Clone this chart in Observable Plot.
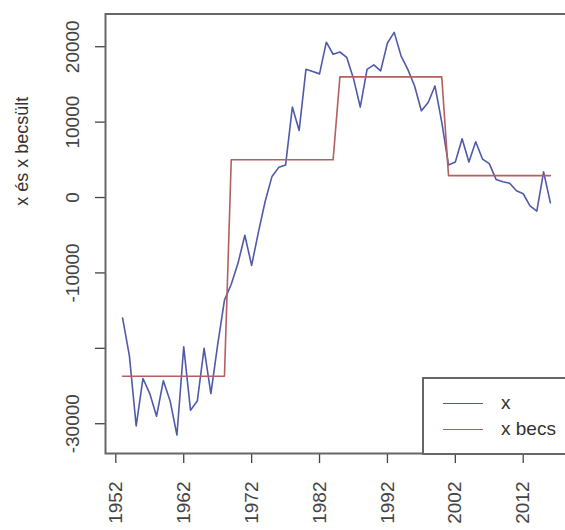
<!DOCTYPE html>
<html>
<head>
<meta charset="utf-8">
<script src="https://cdn.jsdelivr.net/npm/d3@7"></script>
<script src="https://cdn.jsdelivr.net/npm/@observablehq/plot@0.6"></script>
<style>
html, body { margin: 0; padding: 0; overflow: hidden; background: #fff; }
#wrap { position: relative; width: 565px; height: 530px; overflow: hidden; font-family: "Liberation Sans", Arial, sans-serif; }
#legend { position: absolute; left: 422px; top: 377px; width: 170px; height: 74px; border: 2px solid #666; background: #fff; box-sizing: content-box; }
.row { position: absolute; left: 0; height: 24px; display: flex; align-items: center; }
.sw { width: 40px; height: 0; border-top: 1.6px solid; margin-left: 19px; margin-right: 18px; }
.lab { font-size: 19px; color: #333; line-height: 24px; white-space: nowrap; }
</style>
</head>
<body>
<div id="wrap"><div id="chart"></div><div id="legend"></div></div>
<script>
// ---- data ----
const years = [1953,1954,1955,1956,1957,1958,1959,1960,1961,1962,1963,1964,1965,1966,1967,1968,
  1969,1970,1971,1972,1973,1974,1975,1976,1977,1978,1979,1980,1981,1982,1983,1984,
  1985,1986,1987,1988,1989,1990,1991,1992,1993,1994,1995,1996,1997,1998,1999,2000,
  2001,2002,2003,2004,2005,2006,2007,2008,2009,2010,2011,2012,2013,2014,2015,2016];
const xValues = [-16000,-21000,-30300,-24000,-26000,-29000,-24300,-27000,-31500,-19800,-28200,-27000,-20000,-26000,-19500,-13600,
  -11500,-8700,-5000,-9000,-4600,-500,2800,4000,4300,12000,8900,17000,16700,16400,20600,19000,
  19300,18600,15800,12000,17000,17600,16800,20500,21900,18800,17000,14800,11500,12600,14800,10000,
  4300,4700,7800,4700,7400,5100,4500,2400,2100,1900,900,500,-1100,-1800,3400,-700];
const xBecs = [-23700,-23700,-23700,-23700,-23700,-23700,-23700,-23700,-23700,-23700,-23700,-23700,-23700,-23700,-23700,-23700,
  5000,5000,5000,5000,5000,5000,5000,5000,5000,5000,5000,5000,5000,5000,5000,5000,
  16000,16000,16000,16000,16000,16000,16000,16000,16000,16000,16000,16000,16000,16000,16000,16000,
  2900,2900,2900,2900,2900,2900,2900,2900,2900,2900,2900,2900,2900,2900,2900,2900];
const xTicks = [1952,1962,1972,1982,1992,2002,2012];
const yTicks = [-30000,-20000,-10000,0,10000,20000];
const yTickLabels = ["-30000","","-10000","0","10000","20000"];
const seriesNames = ["x","x becs"];
const seriesColors = ["#4f5aaa","#b55f5f"];
const yTitle = "x és x becsült";

const rows = years.map((yr, i) => ({year: yr, x: xValues[i], becs: xBecs[i]}));

const chart = Plot.plot({
  width: 565,
  height: 530,
  marginLeft: 105,
  marginRight: -2,
  marginTop: 13.5,
  marginBottom: 77,
  style: {fontFamily: "'Liberation Sans', Arial, sans-serif", fontSize: "19px", color: "#333", background: "white", overflow: "hidden"},
  x: {domain: [1950.48, 2018.52]},
  y: {domain: [-33950, 24340]},
  marks: [
    Plot.axisX({ticks: xTicks, tickSize: 10, tickPadding: 18, tickRotate: -90,
      tickFormat: d => String(d), label: null, color: "#444", strokeWidth: 1.3}),
    Plot.axisY({ticks: yTicks, tickSize: 10, tickPadding: 17, tickRotate: -90,
      tickFormat: d => yTickLabels[yTicks.indexOf(d)], label: null, color: "#444", strokeWidth: 1.3}),
    Plot.line(rows, {x: "year", y: "x", stroke: seriesColors[0], strokeWidth: 1.6}),
    Plot.line(rows, {x: "year", y: "becs", stroke: seriesColors[1], strokeWidth: 1.6}),
    Plot.frame({stroke: "#666", strokeWidth: 2}),
    Plot.text([yTitle], {frameAnchor: "left", dx: -83, dy: -28, rotate: -90, lineAnchor: "middle", fontSize: 18, fill: "#333"})
  ]
});
document.getElementById("chart").appendChild(chart);

// legend
const lg = document.getElementById("legend");
seriesNames.forEach((name, i) => {
  const r = document.createElement("div");
  r.className = "row";
  r.style.top = (12 + i * 26) + "px";
  const sw = document.createElement("div");
  sw.className = "sw";
  sw.style.borderTopColor = seriesColors[i];
  const t = document.createElement("span");
  t.className = "lab";
  t.textContent = name;
  r.appendChild(sw); r.appendChild(t);
  lg.appendChild(r);
});
</script>
</body>
</html>
